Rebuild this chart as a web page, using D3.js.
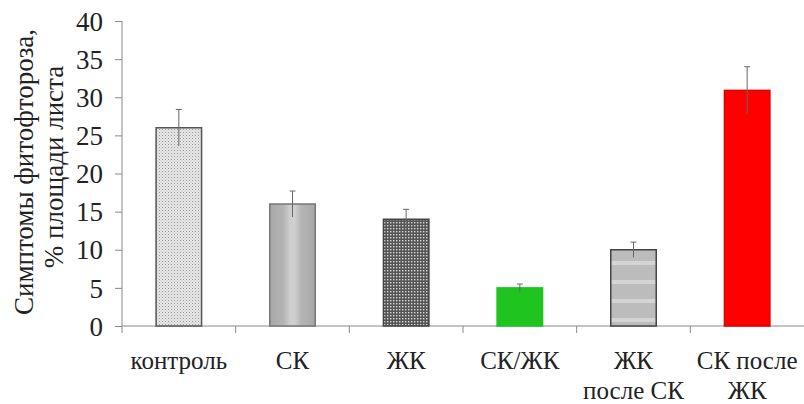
<!DOCTYPE html>
<html><head><meta charset="utf-8">
<script src="https://cdn.jsdelivr.net/npm/d3@7"></script>
</head><body style="margin:0"><svg id="c" width="804" height="404" font-family="Times New Roman"></svg>
<script>
const categories = [["контроль"],["СК"],["ЖК"],["СК/ЖК"],["ЖК","после СК"],["СК после","ЖК"]];
const values = [26, 16, 14, 5, 10, 30.9];
const errors = [2.4, 1.7, 1.3, 0.5, 1.0, 3.1];
const yTicks = [0,5,10,15,20,25,30,35,40];
const yTitle = ["Симптомы фитофтороза,", "% площади листа"];
const FONT = "Times New Roman";

const svg = d3.select("#c");
const defs = svg.append("defs");
const p1 = defs.append("pattern").attr("id","p1").attr("width",3).attr("height",3).attr("patternUnits","userSpaceOnUse");
p1.append("rect").attr("width",3).attr("height",3).attr("fill","#e6e6e6");
p1.append("rect").attr("width",1).attr("height",1).attr("fill","#9a9a9a");
p1.append("rect").attr("x",1.5).attr("y",1.5).attr("width",1).attr("height",1).attr("fill","#c4c4c4");
const g2 = defs.append("linearGradient").attr("id","p2").attr("x1","0").attr("x2","1").attr("y1","0").attr("y2","0");
[[0,"#a8a8a8"],[0.3,"#b4b4b4"],[0.45,"#cfcfcf"],[0.55,"#cfcfcf"],[0.7,"#b4b4b4"],[1,"#a8a8a8"]].forEach(d=>g2.append("stop").attr("offset",d[0]).attr("stop-color",d[1]));
const p3 = defs.append("pattern").attr("id","p3").attr("width",3).attr("height",3).attr("patternUnits","userSpaceOnUse");
p3.append("rect").attr("width",3).attr("height",3).attr("fill","#555");
p3.append("rect").attr("width",1.4).attr("height",1.4).attr("fill","#d8d8d8");
const p5 = defs.append("pattern").attr("id","p5").attr("width",10).attr("height",19).attr("patternUnits","userSpaceOnUse");
p5.append("rect").attr("width",10).attr("height",19).attr("fill","#bcbcbc");
p5.append("rect").attr("y",14).attr("width",10).attr("height",4).attr("fill","#d4d4d4");
const fills = ["url(#p1)","url(#p2)","url(#p3)","#1fc41f","url(#p5)","#ff0000"];
const strokes = ["#555","#777","#444","#1fc41f","#444","#e00000"];

const x = d3.scaleBand().domain(d3.range(categories.length)).range([122, 804]).paddingInner(0.6).paddingOuter(0.3);
const xb = d3.scaleLinear().domain([0, categories.length]).range([122, 804]);
const y = d3.scaleLinear().domain([0, 40]).range([326, 21]);

const ya = svg.append("g").attr("transform","translate(122,0)")
  .call(d3.axisLeft(y).tickValues(yTicks).tickSize(7).tickPadding(12));
ya.attr("font-family", FONT).attr("font-size", 27);
ya.select(".domain").attr("stroke","#8a8a8a").attr("d","M0,21V326");
ya.selectAll(".tick line").attr("stroke","#8a8a8a");
ya.selectAll(".tick text").attr("fill","#222").attr("dy","0.34em");

svg.append("line").attr("x1",122).attr("x2",804).attr("y1",326).attr("y2",326).attr("stroke","#8a8a8a");
svg.selectAll(".bt").data(d3.range(categories.length)).enter().append("line")
  .attr("x1",d=>xb(d)).attr("x2",d=>xb(d)).attr("y1",326).attr("y2",333).attr("stroke","#8a8a8a");

svg.selectAll(".bar").data(values).enter().append("rect")
  .attr("x",(d,i)=>x(i)).attr("width",x.bandwidth())
  .attr("y",d=>y(d)).attr("height",d=>y(0)-y(d))
  .attr("fill",(d,i)=>fills[i]).attr("stroke",(d,i)=>strokes[i]).attr("stroke-width",1.5);

const eg = svg.selectAll(".err").data(values).enter().append("g").attr("stroke","#666").attr("stroke-width",1);
eg.append("line").attr("x1",(d,i)=>x(i)+x.bandwidth()/2).attr("x2",(d,i)=>x(i)+x.bandwidth()/2)
  .attr("y1",(d,i)=>y(d+errors[i])).attr("y2",(d,i)=>y(d-errors[i]));
eg.append("line").attr("x1",(d,i)=>x(i)+x.bandwidth()/2-3).attr("x2",(d,i)=>x(i)+x.bandwidth()/2+3)
  .attr("y1",(d,i)=>y(d+errors[i])).attr("y2",(d,i)=>y(d+errors[i]));

const cl = svg.selectAll(".cl").data(categories).enter().append("text")
  .attr("text-anchor","middle").attr("fill","#222").attr("font-family",FONT).attr("font-size",25);
cl.each(function(lines,i){
  const t = d3.select(this);
  lines.forEach((s,k)=>t.append("tspan").attr("x",x(i)+x.bandwidth()/2).attr("y",369+k*30).text(s));
});

const yt = svg.append("text").attr("transform","translate(0,172) rotate(-90)").attr("text-anchor","middle")
  .attr("fill","#222").attr("font-family",FONT).attr("font-size",27);
yTitle.forEach((s,k)=>yt.append("tspan").attr("x",k*5).attr("y",33+k*30).text(s));
</script></body></html>
